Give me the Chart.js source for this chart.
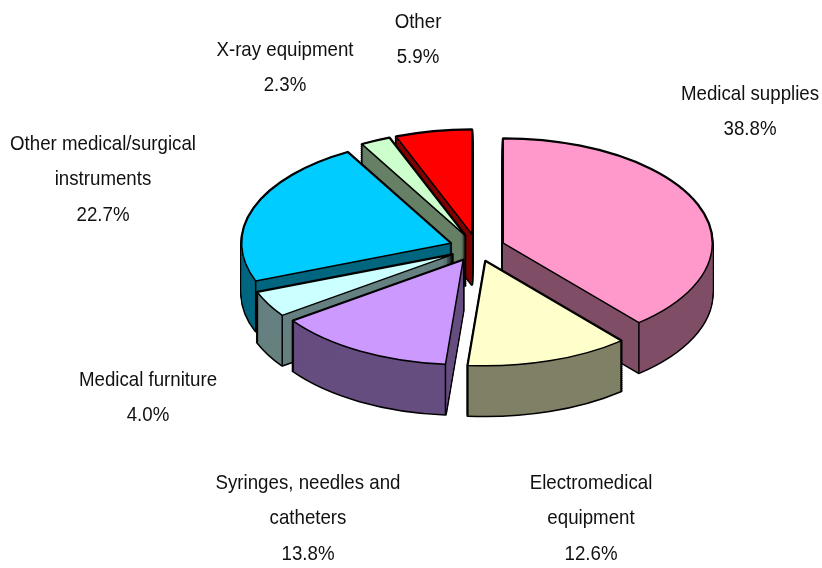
<!DOCTYPE html>
<html>
<head>
<meta charset="utf-8">
<script src="https://cdn.jsdelivr.net/npm/chart.js@4/dist/chart.umd.min.js"></script>
<style>html,body{margin:0;padding:0;background:#fff}canvas{display:block}</style>
</head>
<body>
<canvas id="c" width="822" height="568"></canvas>
<script>
const categories = [
  ['Medical supplies'],
  ['Electromedical','equipment'],
  ['Syringes, needles and','catheters'],
  ['Medical furniture'],
  ['Other medical/surgical','instruments'],
  ['X-ray equipment'],
  ['Other']
];
const shares = [38.8, 12.6, 13.8, 4.0, 22.7, 2.3, 5.9];
const faceColors = ['#FF99CC','#FFFFCC','#CC99FF','#CCFFFF','#00CCFF','#CCFFCC','#FF0000'];
const wallColors = ['#804D66','#808066','#664D80','#668080','#006680','#668066','#800000'];
const labelAnchors = [[750,94],[591,483],[308,483],[148,380],[103,144],[285,50],[418,22]];
const TILT = 0.5, DEPTH = 50, EXPLODE = 28, LINE_GAP = 35.5, TEXT_STRETCH = 1.1;

const pie3d = {
  id:'pie3d',
  beforeDatasetsDraw(chart){
    const ctx = chart.ctx, arcs = chart.getDatasetMeta(0).data;
    const items = arcs.map((el,i)=>{
      const mid = (el.startAngle+el.endAngle)/2;
      return {el,i,dx:Math.cos(mid)*EXPLODE,dy:Math.sin(mid)*EXPLODE*TILT};
    }).sort((p,q)=>(p.el.y*TILT+p.dy)-(q.el.y*TILT+q.dy));
    const tilted = (dx,dy,cy)=>{ ctx.setTransform(1,0,0,TILT,dx,cy*(1-TILT)+dy); };
    const trace = (el,dx,dy)=>{
      tilted(dx,dy,el.y);
      ctx.beginPath();
      ctx.moveTo(el.x,el.y);
      ctx.arc(el.x,el.y,el.outerRadius,el.startAngle,el.endAngle);
      ctx.closePath();
      ctx.setTransform(1,0,0,1,0,0);
    };
    ctx.save();
    ctx.lineJoin='round';
    for(const it of items){
      const {el,i,dx,dy} = it;
      ctx.strokeStyle='#000'; ctx.lineWidth=3;
      for(let d=0;d<=DEPTH;d+=2){ trace(el,dx,dy+d); ctx.stroke(); }
      ctx.fillStyle=wallColors[i];
      for(let d=0;d<=DEPTH;d+=1){ trace(el,dx,dy+d); ctx.fill(); }
      ctx.lineWidth=1.5;
      for(const ang of [el.startAngle,el.endAngle]){
        if(Math.sin(ang)>0){
          const px=el.x+Math.cos(ang)*el.outerRadius+dx;
          const py=el.y+Math.sin(ang)*el.outerRadius*TILT+dy;
          ctx.beginPath(); ctx.moveTo(px,py); ctx.lineTo(px,py+DEPTH); ctx.stroke();
        }
      }
      tilted(dx,dy,el.y);
      el.draw(ctx);
      trace(el,dx,dy);
      ctx.lineWidth=1.5; ctx.stroke();
    }
    ctx.restore();
    return false;
  },
  afterDraw(chart){
    const ctx=chart.ctx;
    ctx.save();
    ctx.fillStyle='#111';
    ctx.textAlign='center'; ctx.textBaseline='middle';
    ctx.font='18.7px "Liberation Sans", Arial, sans-serif';
    categories.forEach((lines,i)=>{
      const [x,y0]=labelAnchors[i];
      [...lines, shares[i].toFixed(1)+'%'].forEach((t,k)=>{
        ctx.setTransform(1,0,0,TEXT_STRETCH,x,y0+k*LINE_GAP);
        ctx.fillText(t,0,0);
      });
    });
    ctx.restore();
  }
};

new Chart(document.getElementById('c'),{
  type:'pie',
  data:{labels:categories.map(l=>l.join(' ')),datasets:[{
    data:shares,backgroundColor:faceColors,borderWidth:0
  }]},
  options:{
    responsive:false,animation:false,radius:209,
    layout:{padding:{left:132,right:0,top:0,bottom:72}},
    plugins:{legend:{display:false},tooltip:{enabled:false}}
  },
  plugins:[pie3d]
});
</script>
</body>
</html>
